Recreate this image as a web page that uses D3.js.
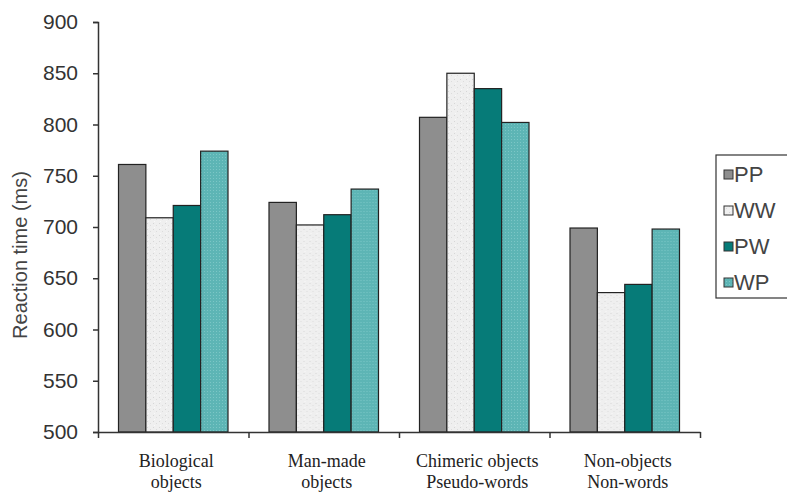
<!DOCTYPE html>
<html>
<head>
<meta charset="utf-8">
<script src="https://cdn.jsdelivr.net/npm/d3@7"></script>
<style>
  body { margin: 0; background: #fff; }
  svg { display: block; }
</style>
</head>
<body>
<script>

var width = 787,
	height = 498;

// data
var categories = ["Biological objects", "Man-made objects", "Chimeric objects Pseudo-words", "Non-objects Non-words"];
var catLines = [["Biological", "objects"], ["Man-made", "objects"], ["Chimeric objects", "Pseudo-words"], ["Non-objects", "Non-words"]];
var series = ["PP", "WW", "PW", "WP"];
var PP = [761, 724, 807, 699];
var WW = [709, 702, 850, 636];
var PW = [721, 712, 835, 644];
var WP = [774, 737, 802, 698];
var yTicks = [500, 550, 600, 650, 700, 750, 800, 850, 900];

var values = { PP: PP, WW: WW, PW: PW, WP: WP };
var fills = { PP: "#8e8e8e", WW: "url(#speckle)", PW: "#067b78", WP: "url(#dots)" };

var plot = { left: 98, right: 700, top: 22, bottom: 432 };

var svg = d3.select("body")
	.append("svg")
	.attr("width", width)
	.attr("height", height);

// patterns for the textured bars
var defs = svg.append("defs");
var sp = defs.append("pattern")
	.attr("id", "speckle")
	.attr("patternUnits", "userSpaceOnUse")
	.attr("width", 6).attr("height", 6);
sp.append("rect").attr("width", 6).attr("height", 6).attr("fill", "#efefef");
sp.append("rect").attr("x", 1).attr("y", 1).attr("width", 1).attr("height", 1).attr("fill", "#d6d6d6");
sp.append("rect").attr("x", 4).attr("y", 3).attr("width", 1).attr("height", 1).attr("fill", "#dcdcdc");
sp.append("rect").attr("x", 2).attr("y", 5).attr("width", 1).attr("height", 1).attr("fill", "#f9f9f9");

var dp = defs.append("pattern")
	.attr("id", "dots")
	.attr("patternUnits", "userSpaceOnUse")
	.attr("width", 3).attr("height", 3);
dp.append("rect").attr("width", 3).attr("height", 3).attr("fill", "#5db5b5");
dp.append("rect").attr("x", 1).attr("y", 1).attr("width", 1).attr("height", 1).attr("fill", "#7cc6c6");

var xScale = d3.scaleBand()
	.domain(categories)
	.range([plot.left, plot.right])
	.paddingInner(0)
	.paddingOuter(0);

var xSub = d3.scaleBand()
	.domain(series)
	.range([20.5, xScale.bandwidth() - 20.5]);

var yScale = d3.scaleLinear()
	.domain([500, 900])
	.range([plot.bottom, plot.top]);

// bars
var groups = svg.selectAll("g.cat")
	.data(categories)
	.enter()
	.append("g")
	.attr("class", "cat")
	.attr("transform", function(d) { return "translate(" + xScale(d) + ",0)"; });

groups.selectAll("rect")
	.data(function(d, i) { return series.map(function(s) { return { s: s, v: values[s][i] }; }); })
	.enter()
	.append("rect")
	.attr("x", function(d) { return xSub(d.s); })
	.attr("y", function(d) { return yScale(d.v); })
	.attr("width", xSub.bandwidth())
	.attr("height", function(d) { return yScale(500) - yScale(d.v); })
	.attr("fill", function(d) { return fills[d.s]; })
	.attr("stroke", "#222")
	.attr("stroke-width", 1.2);

// y axis
var yAxis = svg.append("g")
	.attr("class", "y axis")
	.attr("transform", "translate(" + plot.left + ",0)")
	.call(d3.axisLeft(yScale).tickValues(yTicks).tickSize(5).tickPadding(15));
yAxis.select(".domain").attr("stroke", "#333").attr("stroke-width", 1.5);
yAxis.selectAll(".tick line").attr("stroke", "#333").attr("stroke-width", 1.5);
yAxis.selectAll("text")
	.attr("fill", "#333")
	.style("font-family", "Liberation Sans, Arial, sans-serif")
	.style("font-size", "21px");

// x axis with ticks at category boundaries
var xEdge = d3.scaleLinear().domain([0, categories.length]).range([plot.left, plot.right]);
var xAxis = svg.append("g")
	.attr("class", "x axis")
	.attr("transform", "translate(0," + plot.bottom + ")")
	.call(d3.axisBottom(xEdge).tickValues(d3.range(categories.length + 1)).tickFormat("").tickSize(6).tickSizeOuter(0));
xAxis.select(".domain").attr("stroke", "#333").attr("stroke-width", 1.5);
xAxis.selectAll(".tick line").attr("stroke", "#333").attr("stroke-width", 1.5);

// category labels
var labels = svg.selectAll("text.cat")
	.data(categories)
	.enter()
	.append("text")
	.attr("class", "cat")
	.attr("text-anchor", "middle")
	.attr("fill", "#222")
	.style("font-family", "Liberation Serif, Times New Roman, serif")
	.style("font-size", "18px");

labels.selectAll("tspan")
	.data(function(d, i) { return catLines[i].map(function(t) { return { t: t, c: d }; }); })
	.enter()
	.append("tspan")
	.attr("x", function(d) { return xScale(d.c) + xScale.bandwidth() / 2 + 3; })
	.attr("y", function(d, j) { return 467 + j * 21; })
	.text(function(d) { return d.t; });

// y label
svg.append("text")
	.attr("transform", "rotate(-90)")
	.attr("x", -(plot.top + plot.bottom) / 2 - 28)
	.attr("y", 27)
	.attr("text-anchor", "middle")
	.attr("fill", "#444")
	.style("font-family", "Liberation Sans, Arial, sans-serif")
	.style("font-size", "20px")
	.text("Reaction time (ms)");

// legend
var legend = svg.append("g").attr("transform", "translate(716,155)");
legend.append("rect")
	.attr("width", 90)
	.attr("height", 143)
	.attr("fill", "#fff")
	.attr("stroke", "#333")
	.attr("stroke-width", 1.2);

var items = legend.selectAll("g.item")
	.data(series)
	.enter()
	.append("g")
	.attr("class", "item")
	.attr("transform", function(d, i) { return "translate(0," + (20 + i * 36) + ")"; });

items.append("rect")
	.attr("x", 8)
	.attr("y", -5)
	.attr("width", 9)
	.attr("height", 9)
	.attr("fill", function(d) { return fills[d]; })
	.attr("stroke", "#333")
	.attr("stroke-width", 1);

items.append("text")
	.attr("x", 18)
	.attr("y", 7)
	.attr("fill", "#444")
	.style("font-family", "Liberation Sans, Arial, sans-serif")
	.style("font-size", "22px")
	.text(function(d) { return d; });

</script>
</body>
</html>
